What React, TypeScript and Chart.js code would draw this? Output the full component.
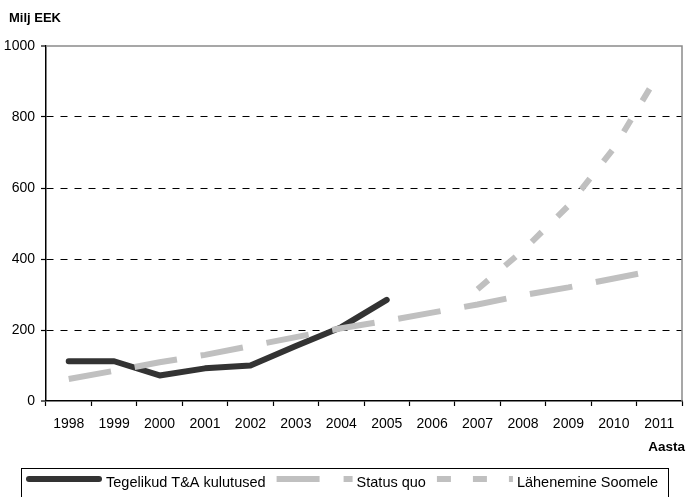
import React, { useEffect, useRef } from "react";
import { Chart, registerables } from "chart.js";

Chart.register(...registerables);

// Years on the category axis
const years = ["1998", "1999", "2000", "2001", "2002", "2003", "2004", "2005", "2006", "2007", "2008", "2009", "2010", "2011"];

// R&D spending, million EEK
const actualSpending = [112, 112, 72, 92, 100, 155, 208, 285, null, null, null, null, null, null];
const statusQuo = [62, 85, 109, 130, 155, 180, 205, 226, 249, 272, 298, 320, 345, 370];
const convergence = [null, null, null, null, null, null, null, null, null, 315, 424, 550, 712, 925];

const seriesNames = ["Tegelikud T&A kulutused", "Status quo", "Lähenemine Soomele"];

const yMin = 0;
const yMax = 1000;
const yStep = 200;

const FONT = '"Liberation Sans", Arial, Helvetica, sans-serif';

// Grey frame along the top and right edges of the plot area
const plotFrame = {
  id: "plotFrame",
  beforeDatasetsDraw(chart: any) {
    const { ctx, chartArea } = chart;
    const { left, right, top, bottom } = chartArea;
    ctx.save();
    ctx.strokeStyle = "#8a8a8a";
    ctx.lineWidth = 1.5;
    ctx.setLineDash([]);
    ctx.beginPath();
    ctx.moveTo(left, top);
    ctx.lineTo(right, top);
    ctx.lineTo(right, bottom);
    ctx.stroke();
    ctx.restore();
  },
};

// Axis captions: unit above the value axis, "Aasta" under the year axis
const axisCaptions = {
  id: "axisCaptions",
  afterDraw(chart: any) {
    const { ctx } = chart;
    ctx.save();
    ctx.fillStyle = "#000";
    ctx.font = `bold 13px ${FONT}`;
    ctx.textAlign = "left";
    ctx.textBaseline = "middle";
    ctx.fillText("Milj EEK", 9, 18);
    ctx.font = `bold 13.5px ${FONT}`;
    ctx.textAlign = "right";
    ctx.fillText("Aasta", 685, 447);
    ctx.restore();
  },
};

// Boxed legend with long line samples under the chart
const lineLegend = {
  id: "lineLegend",
  afterDraw(chart: any) {
    const { ctx } = chart;
    const boxLeft = 21.5;
    const boxTop = 468.5;
    const boxWidth = 647;
    const sampleLen = 76;
    const sampleY = 479;
    const textY = 483;
    ctx.save();
    ctx.strokeStyle = "#000";
    ctx.lineWidth = 1;
    ctx.setLineDash([]);
    ctx.strokeRect(boxLeft, boxTop, boxWidth, 40);

    ctx.font = `14.5px ${FONT}`;
    ctx.textBaseline = "middle";
    ctx.textAlign = "left";
    let x = 26;
    chart.data.datasets.forEach((ds: any) => {
      ctx.save();
      ctx.strokeStyle = ds.borderColor;
      ctx.lineWidth = ds.borderWidth;
      ctx.lineCap = ds.borderCapStyle || "butt";
      ctx.setLineDash(ds.borderDash || []);
      ctx.beginPath();
      const inset = ctx.lineCap === "round" ? ds.borderWidth / 2 : 0;
      ctx.moveTo(x + inset, sampleY);
      ctx.lineTo(x + sampleLen - inset, sampleY);
      ctx.stroke();
      ctx.restore();
      const tx = x + sampleLen + 4;
      ctx.fillStyle = "#000";
      ctx.fillText(ds.label, tx, textY);
      x = tx + ctx.measureText(ds.label).width + 11;
    });
    ctx.restore();
  },
};

export default function App() {
  const canvasRef = useRef<HTMLCanvasElement | null>(null);

  useEffect(() => {
    document.body.style.margin = "0";
    const canvas = canvasRef.current;
    if (!canvas) return;

    Chart.defaults.font.family = FONT;
    Chart.defaults.color = "#000";

    const chart = new Chart(canvas, {
      type: "line",
      data: {
        labels: years,
        datasets: [
          {
            label: seriesNames[0],
            data: actualSpending,
            borderColor: "#333333",
            borderWidth: 6,
            borderCapStyle: "round",
            borderJoinStyle: "round",
            pointRadius: 0,
            fill: false,
            order: 3,
          },
          {
            label: seriesNames[1],
            data: statusQuo,
            borderColor: "#c0c0c0",
            borderWidth: 6,
            borderDash: [43, 24],
            borderCapStyle: "butt",
            borderJoinStyle: "miter",
            pointRadius: 0,
            fill: false,
            order: 1,
          },
          {
            label: seriesNames[2],
            data: convergence,
            borderColor: "#c0c0c0",
            borderWidth: 6,
            borderDash: [14, 22],
            borderCapStyle: "butt",
            borderJoinStyle: "miter",
            pointRadius: 0,
            fill: false,
            order: 2,
          },
        ],
      },
      options: {
        responsive: false,
        animation: false,
        devicePixelRatio: 1,
        layout: { padding: { left: 0, right: 6, top: 46, bottom: 0 } },
        plugins: {
          legend: { display: false },
          tooltip: { enabled: false },
        },
        scales: {
          x: {
            type: "category",
            offset: true,
            grid: {
              offset: true,
              display: true,
              drawOnChartArea: false,
              drawTicks: true,
              tickLength: 5,
              tickColor: "#000",
              tickWidth: 1.2,
            },
            border: { display: true, color: "#000", width: 1.5 },
            ticks: {
              font: { size: 14 },
              color: "#000",
              padding: 10,
              maxRotation: 0,
              autoSkip: false,
            },
            afterFit(scale: any) {
              scale.height = 96;
            },
          },
          y: {
            min: yMin,
            max: yMax,
            grid: {
              color: "#000",
              lineWidth: (ctx: any) =>
                ctx.tick && (ctx.tick.value === yMin || ctx.tick.value === yMax) ? 0 : 1,
              drawTicks: true,
              tickLength: 5,
              tickColor: "#000",
              tickWidth: 1.2,
            },
            border: { display: true, color: "#000", width: 1.5, dash: [7, 7] },
            ticks: {
              stepSize: yStep,
              font: { size: 14 },
              color: "#000",
              padding: 6,
              callback: (value: any) => String(value),
            },
            afterFit(scale: any) {
              scale.width = 46;
            },
          },
        },
      },
      plugins: [plotFrame, axisCaptions, lineLegend],
    });

    return () => {
      chart.destroy();
    };
  }, []);

  return (
    <div style={{ position: "fixed", left: 0, top: 0, width: 688, height: 497, background: "#fff" }}>
      <canvas ref={canvasRef} width={688} height={497} />
    </div>
  );
}
